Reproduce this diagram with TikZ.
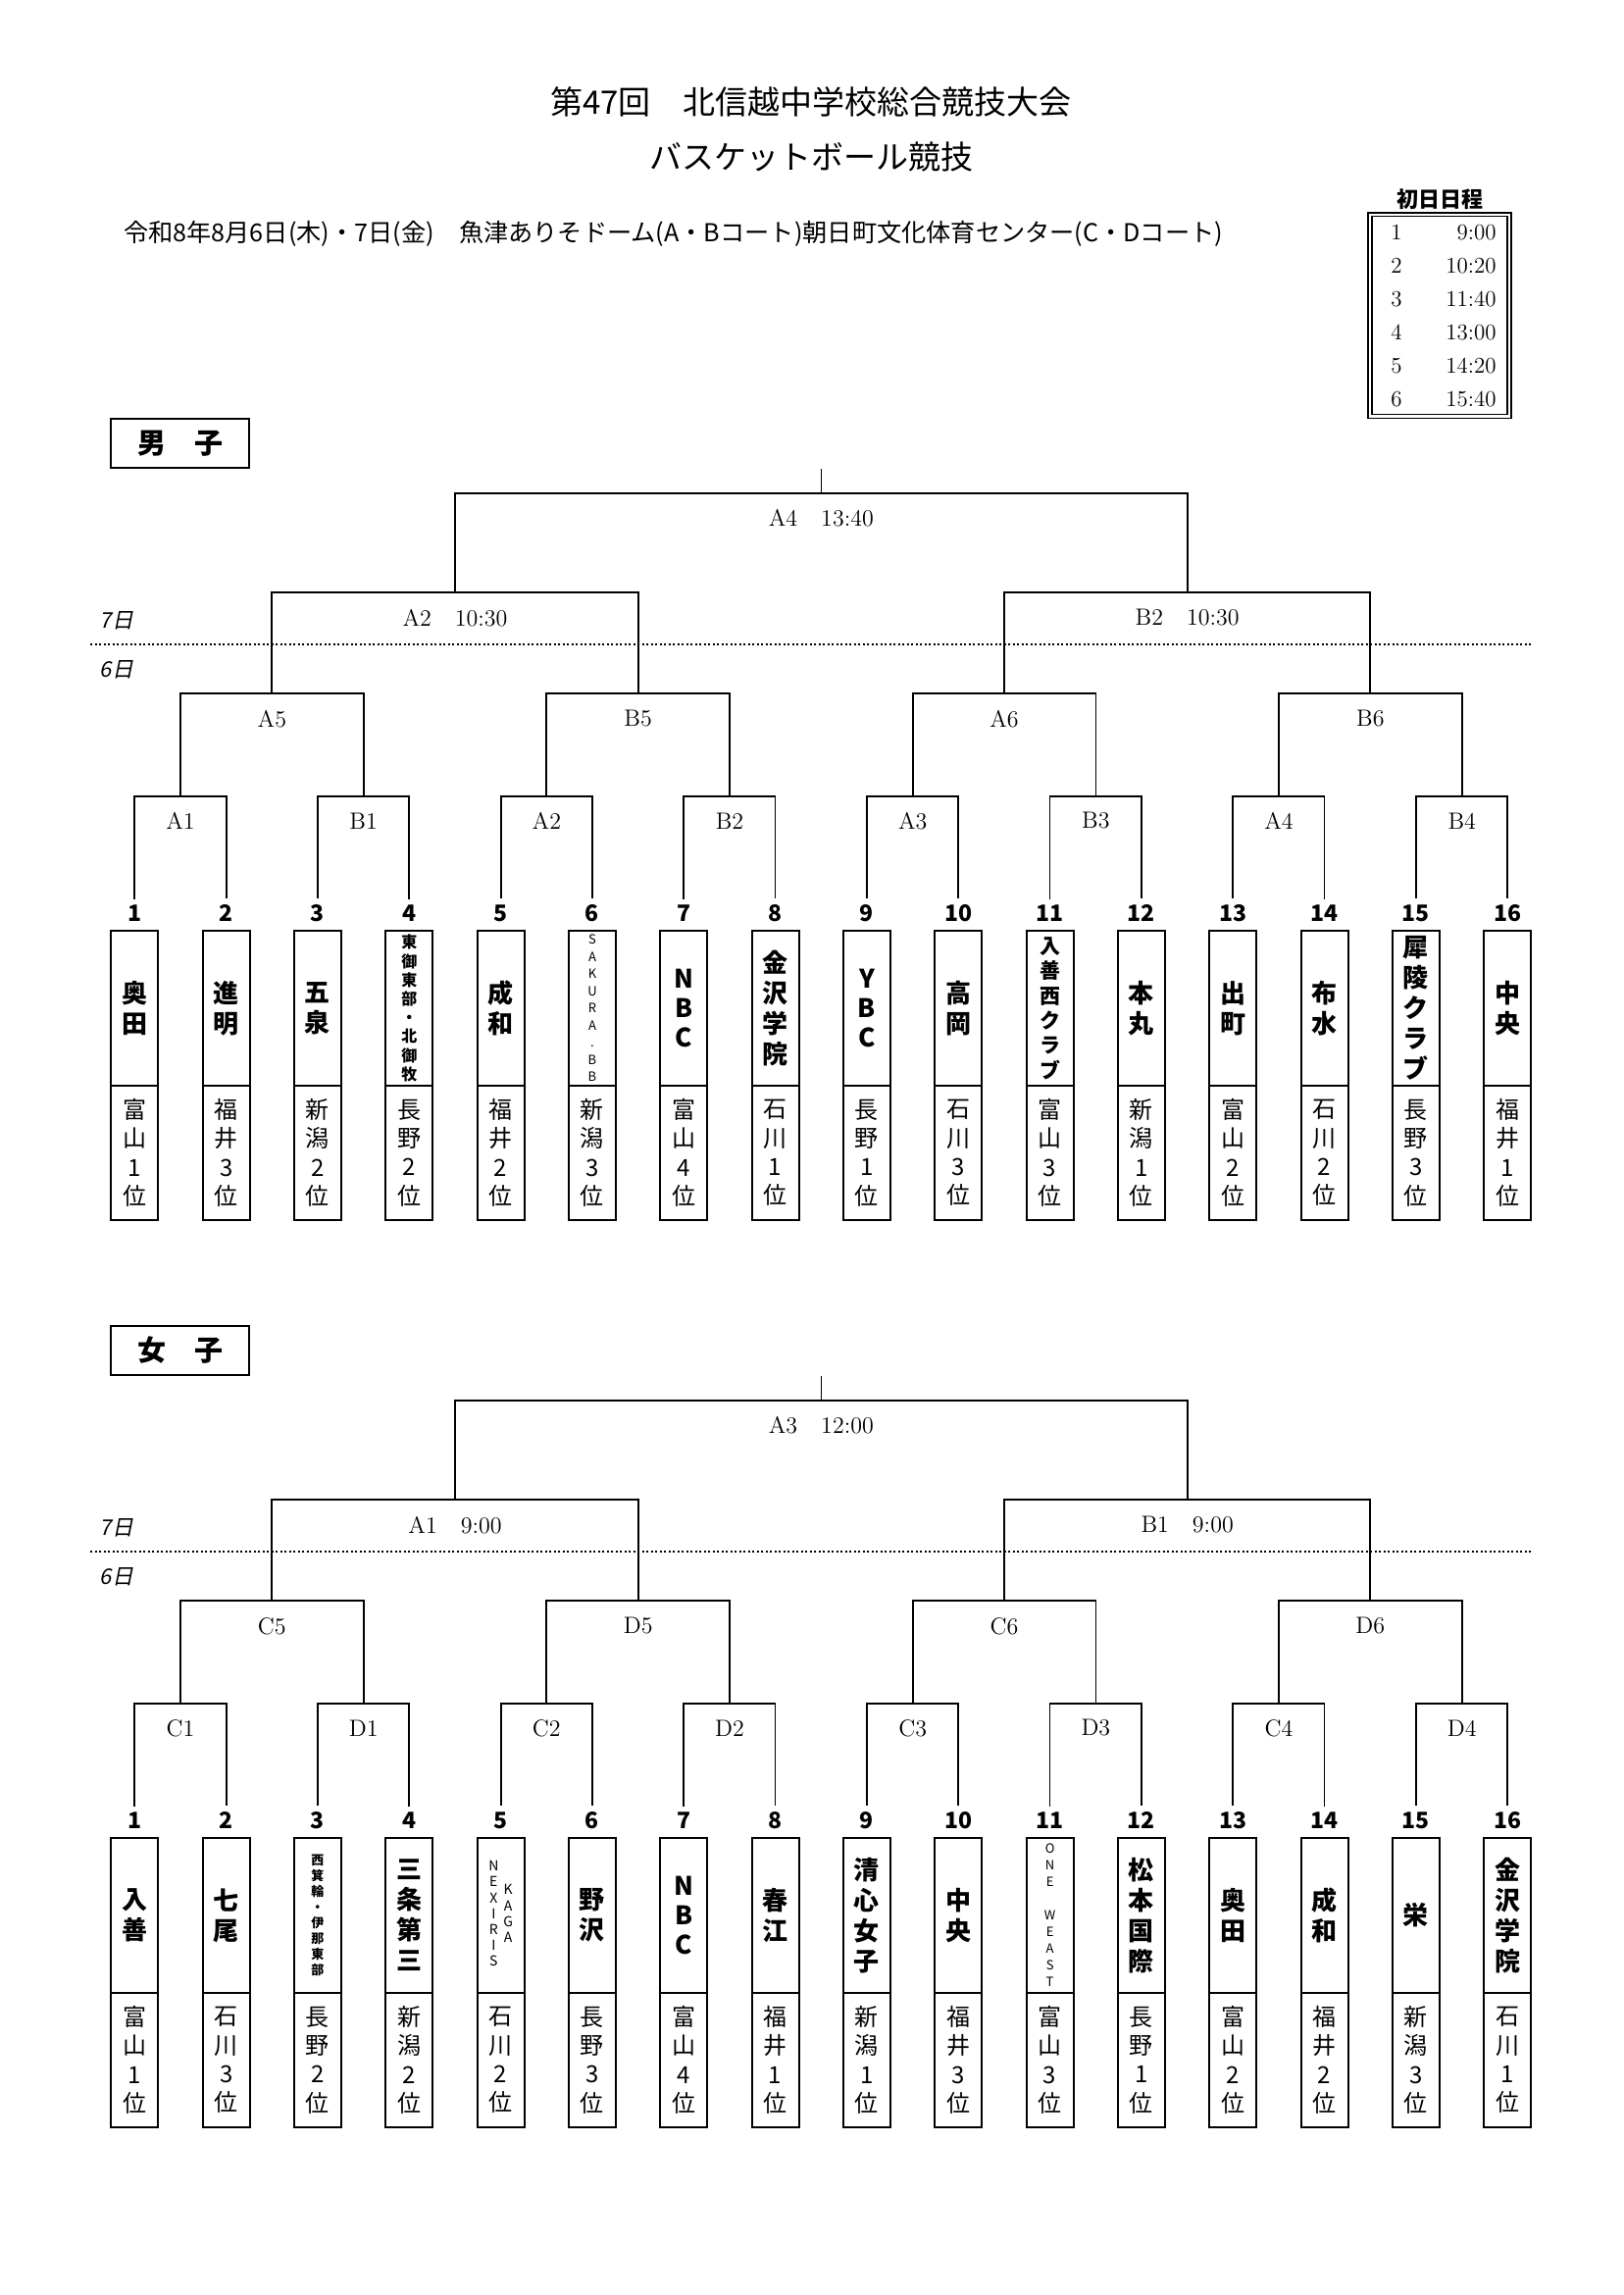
\documentclass[tikz,border=0pt]{standalone}
\usepackage{fontspec}
\usepackage{graphicx}
\usepackage{tikz}
\usetikzlibrary{positioning}

\newfontfamily\jp{Noto Sans CJK JP}
\newfontfamily\jpit{Noto Sans CJK JP}[FakeSlant=0.2]

% two-column vertical name
\newcommand{\nexkaga}{%
  \begin{tabular}[c]{@{}c@{}}N\\E\\X\\I\\R\\I\\S\end{tabular}\hspace{2.5pt}%
  \begin{tabular}[c]{@{}c@{}}K\\A\\G\\A\end{tabular}}

\begin{document}
\begin{tikzpicture}[
    x=0.5pt, y=-0.5pt,
    teamname/.style={draw, line width=1.1pt, minimum width=24pt, minimum height=79pt,
                     inner sep=0pt, outer sep=0pt, align=center},
    teampref/.style={draw, line width=1.1pt, minimum width=24pt, minimum height=68.5pt,
                     inner sep=0pt, outer sep=0pt, align=center,
                     font=\jp\fontsize{12pt}{14.7pt}\selectfont},
    teamnum/.style={font=\jp\bfseries\fontsize{11.5pt}{12pt}\selectfont, inner sep=3pt},
    nbig/.style={font=\jp\bfseries\fontsize{13pt}{15.5pt}\selectfont},
    nlat/.style={font=\jp\bfseries\fontsize{13pt}{15pt}\selectfont},
    nmid/.style={font=\jp\bfseries\fontsize{10.5pt}{12.7pt}\selectfont},
    nsml/.style={font=\jp\bfseries\fontsize{8pt}{9.6pt}\selectfont},
    nsak/.style={font=\jp\fontsize{6.5pt}{8.75pt}\selectfont},
    nmino/.style={font=\jp\bfseries\fontsize{6.5pt}{8pt}\selectfont},
    nnex/.style={font=\jp\fontsize{7pt}{8.1pt}\selectfont},
    nwest/.style={font=\jp\fontsize{6.5pt}{8.5pt}\selectfont},
    bracket/.style={line width=0.85pt},
    topstub/.style={line width=0.6pt},
    mlabel/.style={font=\fontsize{12pt}{12pt}\selectfont, inner sep=1pt},
    daylabel/.style={font=\jpit\fontsize{11pt}{12pt}\selectfont, inner sep=1pt},
    dayline/.style={line width=1pt, dash pattern=on 1pt off 1.25pt},
    sectbox/.style={draw, line width=0.8pt, minimum width=70.5pt, minimum height=25pt,
                    font=\jp\bfseries\fontsize{14.5pt}{15pt}\selectfont},
    title/.style={font=\jp\fontsize{16.5pt}{18pt}\selectfont},
    schedhd/.style={font=\jp\bfseries\fontsize{11pt}{12pt}\selectfont},
    schedtx/.style={font=\fontsize{11.5pt}{12pt}\selectfont, inner sep=0pt},
    schedbox/.style={draw, double, line width=0.7pt, double distance=1.2pt,
                     minimum width=71pt, minimum height=102.9pt}
]
\fill[white] (0,0) rectangle (1655,2340);
\useasboundingbox (0,0) rectangle (1655,2340);

% Heading
\node[title] (ttl1) at (827,104) {第47回　北信越中学校総合競技大会};
\node[title] (ttl2) at (827,160) {バスケットボール競技};
\node[font=\jp\fontsize{12.6pt}{14pt}\selectfont, anchor=west] (venue) at (119,238)
    {令和8年8月6日(木)・7日(金)　魚津ありそドーム(A・Bコート)朝日町文化体育センター(C・Dコート)};

% Schedule of the first day
\node[schedhd] (shd) at (1468,203) {初日日程};
\node[schedbox] (sbox) at (1468,321.6) {};
\foreach \r/\t in {1/9:00,2/10:20,3/11:40,4/13:00,5/14:20,6/15:40} {
  \node[schedtx] (sn\r) at (1424,{203+34*\r}) {\r};
  \node[schedtx, anchor=east] (st\r) at (1526,{203+34*\r}) {\t};
}

% ---------------- Boys ----------------
\node[sectbox] (msect) at (183.5,452) {男　子};
\node[daylabel] (md7) at (119,633) {7日};
\node[daylabel] (md6) at (119,683) {6日};
\coordinate (mdl) at (92,657);
\coordinate (mdr) at (1562,657);
\draw[dayline] (mdl) -- (mdr);

% Teams
\foreach \i/\nm/\pf/\st in {
    1/奥\\田/富\\山\\1\\位/nbig,
    2/進\\明/福\\井\\3\\位/nbig,
    3/五\\泉/新\\潟\\2\\位/nbig,
    4/東\\御\\東\\部\\・\\北\\御\\牧/長\\野\\2\\位/nsml,
    5/成\\和/福\\井\\2\\位/nbig,
    6/S\\A\\K\\U\\R\\A\\.\\B\\B/新\\潟\\3\\位/nsak,
    7/N\\B\\C/富\\山\\4\\位/nlat,
    8/金\\沢\\学\\院/石\\川\\1\\位/nbig,
    9/Y\\B\\C/長\\野\\1\\位/nlat,
    10/高\\岡/石\\川\\3\\位/nbig,
    11/入\\善\\西\\ク\\ラ\\ブ/富\\山\\3\\位/nmid,
    12/本\\丸/新\\潟\\1\\位/nbig,
    13/出\\町/富\\山\\2\\位/nbig,
    14/布\\水/石\\川\\2\\位/nbig,
    15/犀\\陵\\ク\\ラ\\ブ/長\\野\\3\\位/nbig,
    16/中\\央/福\\井\\1\\位/nbig} {
  \pgfmathsetmacro\tx{137.33+(\i-1)*93.33}
  \node[teamname, \st] (mn\i) at (\tx,1028) {\nm};
  \node[teampref, below=0pt of mn\i] (mp\i) {\pf};
  \node[teamnum, above=1.5pt of mn\i] (mk\i) {\i};
}

% Matches, round 1 and 2
\foreach \k/\lb in {1/A1,2/B1,3/A2,4/B2,5/A3,6/B3,7/A4,8/B4} {
  \pgfmathtruncatemacro\a{2*\k-1}
  \pgfmathtruncatemacro\b{2*\k}
  \pgfmathsetmacro\mx{184+(\k-1)*186.67}
  \coordinate (ma\k) at (\mx,812);
  \draw[bracket] (mk\a.north) |- (ma\k) -| (mk\b.north);
  \node[mlabel] (mal\k) at (\mx,837) {\lb};
}
\foreach \k/\lb in {1/A5,2/B5,3/A6,4/B6} {
  \pgfmathtruncatemacro\a{2*\k-1}
  \pgfmathtruncatemacro\b{2*\k}
  \pgfmathsetmacro\mx{277.33+(\k-1)*373.33}
  \coordinate (mb\k) at (\mx,707);
  \draw[bracket] (ma\a) |- (mb\k) -| (ma\b);
  \node[mlabel] (mbl\k) at (\mx,733) {\lb};
}

% Semi-finals and final
\coordinate (mc1) at (464,604);
\coordinate (mc2) at (1210.67,604);
\coordinate (mf) at (837.33,503);
\coordinate (mtop) at (837.33,478);
\draw[bracket] (mb1) |- (mc1) -| (mb2);
\draw[bracket] (mb3) |- (mc2) -| (mb4);
\draw[bracket] (mc1) |- (mf) -| (mc2);
\draw[topstub] (mf) -- (mtop);
\node[mlabel] (mcl1) at (464,630) {A2\quad 10:30};
\node[mlabel] (mcl2) at (1210.67,630) {B2\quad 10:30};
\node[mlabel] (mfl) at (837.33,528) {A4\quad 13:40};

% ---------------- Girls ----------------
\begin{scope}[yshift=-462.5pt]
\node[sectbox] (wsect) at (183.5,452) {女　子};
\node[daylabel] (wd7) at (119,633) {7日};
\node[daylabel] (wd6) at (119,683) {6日};
\coordinate (wdl) at (92,657);
\coordinate (wdr) at (1562,657);
\draw[dayline] (wdl) -- (wdr);

% Teams
\foreach \i/\nm/\pf/\st in {
    1/入\\善/富\\山\\1\\位/nbig,
    2/七\\尾/石\\川\\3\\位/nbig,
    3/西\\箕\\輪\\・\\伊\\那\\東\\部/長\\野\\2\\位/nmino,
    4/三\\条\\第\\三/新\\潟\\2\\位/nbig,
    5/\nexkaga/石\\川\\2\\位/nnex,
    6/野\\沢/長\\野\\3\\位/nbig,
    7/N\\B\\C/富\\山\\4\\位/nlat,
    8/春\\江/福\\井\\1\\位/nbig,
    9/清\\心\\女\\子/新\\潟\\1\\位/nbig,
    10/中\\央/福\\井\\3\\位/nbig,
    11/O\\N\\E\\~\\W\\E\\A\\S\\T/富\\山\\3\\位/nwest,
    12/松\\本\\国\\際/長\\野\\1\\位/nbig,
    13/奥\\田/富\\山\\2\\位/nbig,
    14/成\\和/福\\井\\2\\位/nbig,
    15/栄/新\\潟\\3\\位/nbig,
    16/金\\沢\\学\\院/石\\川\\1\\位/nbig} {
  \pgfmathsetmacro\tx{137.33+(\i-1)*93.33}
  \node[teamname, \st] (wn\i) at (\tx,1028) {\nm};
  \node[teampref, below=0pt of wn\i] (wp\i) {\pf};
  \node[teamnum, above=1.5pt of wn\i] (wk\i) {\i};
}

% Matches, round 1 and 2
\foreach \k/\lb in {1/C1,2/D1,3/C2,4/D2,5/C3,6/D3,7/C4,8/D4} {
  \pgfmathtruncatemacro\a{2*\k-1}
  \pgfmathtruncatemacro\b{2*\k}
  \pgfmathsetmacro\mx{184+(\k-1)*186.67}
  \coordinate (wa\k) at (\mx,812);
  \draw[bracket] (wk\a.north) |- (wa\k) -| (wk\b.north);
  \node[mlabel] (wal\k) at (\mx,837) {\lb};
}
\foreach \k/\lb in {1/C5,2/D5,3/C6,4/D6} {
  \pgfmathtruncatemacro\a{2*\k-1}
  \pgfmathtruncatemacro\b{2*\k}
  \pgfmathsetmacro\mx{277.33+(\k-1)*373.33}
  \coordinate (wb\k) at (\mx,707);
  \draw[bracket] (wa\a) |- (wb\k) -| (wa\b);
  \node[mlabel] (wbl\k) at (\mx,733) {\lb};
}

% Semi-finals and final
\coordinate (wc1) at (464,604);
\coordinate (wc2) at (1210.67,604);
\coordinate (wf) at (837.33,503);
\coordinate (wtop) at (837.33,478);
\draw[bracket] (wb1) |- (wc1) -| (wb2);
\draw[bracket] (wb3) |- (wc2) -| (wb4);
\draw[bracket] (wc1) |- (wf) -| (wc2);
\draw[topstub] (wf) -- (wtop);
\node[mlabel] (wcl1) at (464,630) {A1\quad 9:00};
\node[mlabel] (wcl2) at (1210.67,630) {B1\quad 9:00};
\node[mlabel] (wfl) at (837.33,528) {A3\quad 12:00};
\end{scope}

\end{tikzpicture}
\end{document}
